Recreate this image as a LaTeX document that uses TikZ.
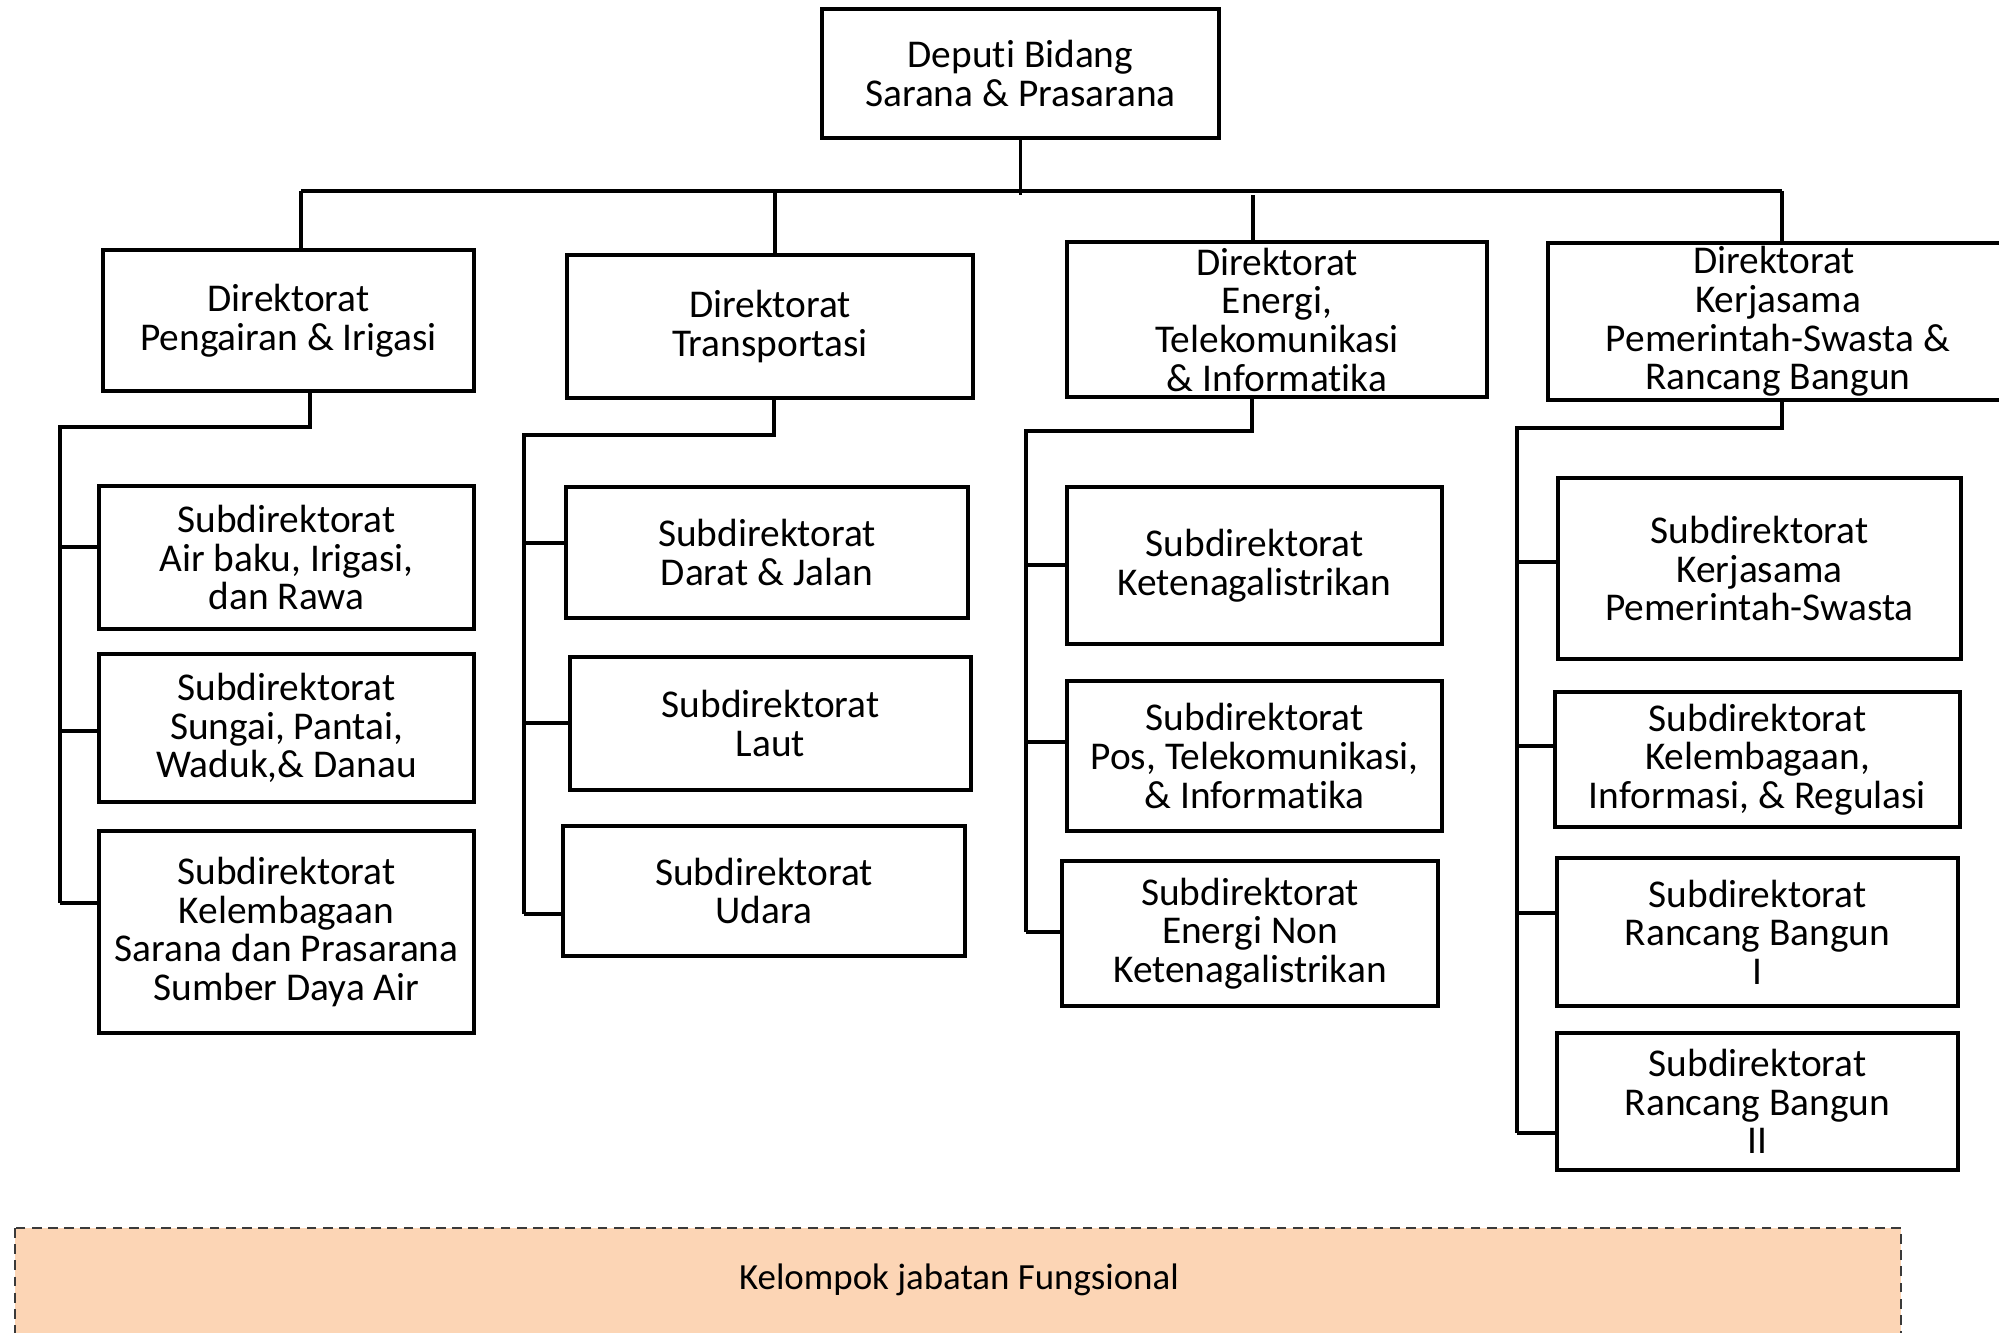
\documentclass[tikz,border=0pt]{standalone}
\usepackage{fontspec}
\setmainfont{Carlito}[Ligatures=NoCommon]
\usepackage{tikz}
\usetikzlibrary{positioning, calc}
\definecolor{fungsifill}{HTML}{FCD5B5}
\definecolor{fungsiline}{HTML}{3A3A3A}

\begin{document}
\begin{tikzpicture}[
    orgbox/.style={rectangle, draw=black, line width=0.9pt, fill=white, inner sep=0pt, align=center, font=\fontsize{11.2}{11}\selectfont},
    link/.style={draw=black, line width=0.9pt},
    fungsibox/.style={draw=fungsiline, fill=fungsifill, line width=0.6pt, dash pattern=on 2.8pt off 1.8pt}
]
\clip (0,0) rectangle (19.99,-13.33);
\fill[white] (0,0) rectangle (19.99,-13.33);

% Deputi
\node[orgbox, minimum width=3.97cm, minimum height=1.29cm] (top) at (10.205,-0.735) {Deputi Bidang\\Sarana \& Prasarana};

% Direktorat
\node[orgbox, minimum width=3.71cm, minimum height=1.41cm] (d1) at (2.885,-3.205) {Direktorat\\Pengairan \& Irigasi};
\node[orgbox, minimum width=4.06cm, minimum height=1.43cm] (d2) at (7.70,-3.265) {Direktorat\\Transportasi};
\node[orgbox, minimum width=4.20cm, minimum height=1.55cm] (d3) at (12.77,-3.195) {Direktorat\\Energi,\\Telekomunikasi\\\& Informatika};
\node[orgbox, minimum width=4.60cm, minimum height=1.57cm] (d4) at (17.78,-3.215) {\hspace*{-0.08cm}Direktorat\\Kerjasama\\Pemerintah-Swasta \&\\Rancang Bangun};

% Subdirektorat Pengairan & Irigasi
\node[orgbox, minimum width=3.75cm, minimum height=1.43cm] (s11) at (2.865,-5.575) {Subdirektorat\\Air baku, Irigasi,\\dan Rawa};
\node[orgbox, minimum width=3.75cm, minimum height=1.48cm] (s12) at (2.865,-7.28) {Subdirektorat\\Sungai, Pantai,\\Waduk,\& Danau};
\node[orgbox, minimum width=3.75cm, minimum height=2.02cm] (s13) at (2.865,-9.32) {Subdirektorat\\Kelembagaan\\Sarana dan Prasarana\\Sumber Daya Air};

% Subdirektorat Transportasi
\node[orgbox, minimum width=4.02cm, minimum height=1.31cm] (s21) at (7.67,-5.525) {Subdirektorat\\Darat \& Jalan};
\node[orgbox, minimum width=4.01cm, minimum height=1.33cm] (s22) at (7.705,-7.235) {Subdirektorat\\Laut};
\node[orgbox, minimum width=4.02cm, minimum height=1.30cm] (s23) at (7.64,-8.91) {Subdirektorat\\Udara};

% Subdirektorat Energi, Telekomunikasi & Informatika
\node[orgbox, minimum width=3.75cm, minimum height=1.57cm] (s31) at (12.545,-5.655) {Subdirektorat\\Ketenagalistrikan};
\node[orgbox, minimum width=3.75cm, minimum height=1.50cm] (s32) at (12.545,-7.56) {Subdirektorat\\Pos, Telekomunikasi,\\\& Informatika};
\node[orgbox, minimum width=3.76cm, minimum height=1.45cm] (s33) at (12.50,-9.335) {Subdirektorat\\Energi Non\\Ketenagalistrikan};

% Subdirektorat Kerjasama & Rancang Bangun
\node[orgbox, minimum width=4.03cm, minimum height=1.81cm] (s41) at (17.595,-5.685) {Subdirektorat\\Kerjasama\\Pemerintah-Swasta};
\node[orgbox, minimum width=4.05cm, minimum height=1.35cm] (s42) at (17.575,-7.595) {Subdirektorat\\Kelembagaan,\\Informasi, \& Regulasi};
\node[orgbox, minimum width=4.01cm, minimum height=1.48cm] (s43) at (17.575,-9.32) {Subdirektorat\\Rancang Bangun\\I};
\node[orgbox, minimum width=4.01cm, minimum height=1.37cm] (s44) at (17.575,-11.015) {Subdirektorat\\Rancang Bangun\\II};

% Bus under the Deputi
\coordinate (j1) at (3.01,-1.91);
\coordinate (j2) at (7.75,-1.91);
\coordinate (j3) at (12.53,-1.91);
\coordinate (j4) at (17.82,-1.91);
\draw[link] (top.south) -- (top.south |- 0,-1.95);
\draw[link] (j1) -- (j4);
\draw[link] (j1) -- (j1 |- d1.north);
\draw[link] (j2) -- (j2 |- d2.north);
\draw[link] ([yshift=-0.04cm]j3) -- (j3 |- d3.north);
\draw[link] (j4) -- (j4 |- d4.north);

% Spines
\coordinate (c1) at (3.10,-4.27);  \coordinate (t1) at (0.60,-4.27);
\coordinate (c2) at (7.74,-4.35);  \coordinate (t2) at (5.24,-4.35);
\coordinate (c3) at (12.52,-4.31); \coordinate (t3) at (10.26,-4.31);
\coordinate (c4) at (17.82,-4.28); \coordinate (t4) at (15.17,-4.28);

\coordinate (b11) at (0.60,-5.47);  \coordinate (b12) at (0.60,-7.31);  \coordinate (b13) at (0.60,-9.03);
\coordinate (b21) at (5.24,-5.43);  \coordinate (b22) at (5.24,-7.23);  \coordinate (b23) at (5.24,-9.14);
\coordinate (b31) at (10.26,-5.65); \coordinate (b32) at (10.26,-7.42); \coordinate (b33) at (10.26,-9.32);
\coordinate (b41) at (15.17,-5.62); \coordinate (b42) at (15.17,-7.46); \coordinate (b43) at (15.17,-9.13); \coordinate (b44) at (15.17,-11.33);

\draw[link] (c1 |- d1.south) -- (c1) -- (t1) -- (b13);
\draw[link] (c2 |- d2.south) -- (c2) -- (t2) -- (b23);
\draw[link] (c3 |- d3.south) -- (c3) -- (t3) -- (b33);
\draw[link] (c4 |- d4.south) -- (c4) -- (t4) -- (b44);

\draw[link] (b11) -- (b11 -| s11.west);
\draw[link] (b12) -- (b12 -| s12.west);
\draw[link] (b13) -- (b13 -| s13.west);
\draw[link] (b21) -- (b21 -| s21.west);
\draw[link] (b22) -- (b22 -| s22.west);
\draw[link] (b23) -- (b23 -| s23.west);
\draw[link] (b31) -- (b31 -| s31.west);
\draw[link] (b32) -- (b32 -| s32.west);
\draw[link] (b33) -- (b33 -| s33.west);
\draw[link] (b41) -- (b41 -| s41.west);
\draw[link] (b42) -- (b42 -| s42.west);
\draw[link] (b43) -- (b43 -| s43.west);
\draw[link] (b44) -- (b44 -| s44.west);

% Fungsional
\draw[fungsibox] (0.15,-12.28) rectangle (19.01,-13.60);
\node[font=\fontsize{10.5}{12}\selectfont] (fungsi) at (9.59,-12.80) {Kelompok jabatan Fungsional};

\end{tikzpicture}
\end{document}
